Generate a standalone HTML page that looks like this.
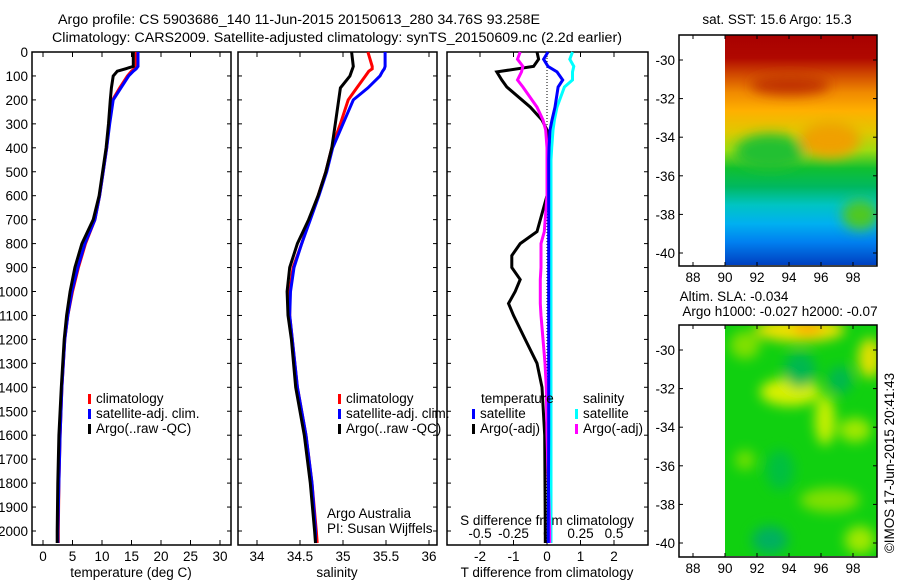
<!DOCTYPE html>
<html><head><meta charset="utf-8"><style>
html,body{margin:0;padding:0;background:#fff}
svg{display:block;font-family:"Liberation Sans",sans-serif;font-size:13.5px}
</style></head><body>
<svg id="c" width="900" height="580" viewBox="0 0 900 580">
<defs>
<linearGradient id="sstg" x1="0" y1="0" x2="0" y2="1">
<stop offset="0" stop-color="#a80000"/><stop offset="0.1" stop-color="#b00800"/>
<stop offset="0.17" stop-color="#d04800"/><stop offset="0.25" stop-color="#f08a00"/>
<stop offset="0.33" stop-color="#ffb000"/><stop offset="0.42" stop-color="#e0c800"/>
<stop offset="0.5" stop-color="#a0dc10"/><stop offset="0.58" stop-color="#10c030"/>
<stop offset="0.66" stop-color="#00b860"/><stop offset="0.74" stop-color="#00c4c4"/>
<stop offset="0.82" stop-color="#00b0f0"/><stop offset="0.9" stop-color="#0080f0"/>
<stop offset="1" stop-color="#0040c0"/></linearGradient>
<clipPath id="m1c"><rect x="725" y="35" width="152" height="230"/></clipPath>
<clipPath id="m2c"><rect x="725" y="325" width="152" height="231"/></clipPath>
<filter id="blur"><feGaussianBlur stdDeviation="6"/></filter>
</defs>
<text x="58" y="24" textLength="482" lengthAdjust="spacingAndGlyphs">Argo profile: CS 5903686_140 11-Jun-2015 20150613_280 34.76S 93.258E</text>
<text x="52" y="42" textLength="570" lengthAdjust="spacingAndGlyphs">Climatology: CARS2009. Satellite-adjusted climatology: synTS_20150609.nc (2.2d earlier)</text>
<g id="plots"></g>
<g id="maps"></g>
</svg>
<script>
// ---- data ----
const depths = [0,60,70,80,100,150,200,300,400,500,600,700,800,900,1000,1100,1200,1400,1600,1800,2000,2050];
const tempArgo = [15.3,15.3,14.0,12.6,11.9,11.6,11.4,11.1,10.7,10.1,9.5,8.5,6.6,5.4,4.6,4.0,3.6,3.1,2.7,2.5,2.4,2.4];
const tempClim = [15.8,15.8,15.5,15.0,14.3,13.0,11.8,11.2,10.8,10.2,9.6,8.8,7.2,6.0,5.0,4.2,3.7,3.2,2.9,2.7,2.6,2.6];
const tempSat  = [16.1,16.1,15.8,15.3,14.5,13.2,11.9,11.3,10.8,10.2,9.6,8.8,7.1,5.9,4.9,4.2,3.7,3.2,2.9,2.7,2.5,2.5];
const salArgo = [35.10,35.12,35.11,35.10,35.08,34.97,34.95,34.91,34.87,34.80,34.71,34.60,34.47,34.38,34.35,34.36,34.40,34.45,34.55,34.62,34.67,34.68];
const salClim = [35.29,35.34,35.34,35.30,35.26,35.16,35.06,34.97,34.87,34.80,34.71,34.61,34.52,34.42,34.38,34.38,34.41,34.47,34.57,34.64,34.69,34.70];
const salSat  = [35.49,35.49,35.48,35.46,35.43,35.29,35.12,35.00,34.88,34.81,34.72,34.62,34.52,34.43,34.39,34.38,34.41,34.47,34.57,34.64,34.68,34.68];
const diffDepths = [0,30,60,83,117,146,230,284,326,400,450,600,750,800,850,900,950,1000,1050,1100,1200,1300,1400,1600,2000,2050];
const tDiffArgo = [-0.3,-0.25,-0.4,-1.5,-1.35,-1.2,-0.5,-0.15,0,0.1,0.05,0,-0.3,-0.8,-1.05,-1.05,-0.8,-0.95,-1.15,-1.0,-0.65,-0.3,-0.15,-0.07,-0.05,-0.05];
const tDiffSat  = [0.03,-0.1,0.03,0.3,0.47,0.33,0.24,0.15,0.09,0.06,0.05,0.05,0.05,0.05,0.05,0.05,0.05,0.05,0.05,0.05,0.05,0.05,0.05,0.05,0.04,0.04];
const sDiffArgo = [-0.2,-0.22,-0.18,-0.19,-0.22,-0.18,-0.075,-0.03,-0.01,0,0,0,-0.02,-0.045,-0.045,-0.045,-0.05,-0.05,-0.05,-0.045,-0.03,-0.015,-0.005,0,0.02,0.02];
const sDiffSat  = [0.19,0.17,0.2,0.19,0.19,0.13,0.075,0.055,0.045,0.035,0.03,0.03,0.03,0.03,0.03,0.03,0.03,0.03,0.03,0.03,0.03,0.03,0.03,0.03,0.03,0.03];
const depthTicks = [0,100,200,300,400,500,600,700,800,900,1000,1100,1200,1300,1400,1500,1600,1700,1800,1900,2000];
const tempTicks = [0,5,10,15,20,25,30];
const salTicks = [34,34.5,35,35.5,36];
const tDiffTicks = [-2,-1,0,1,2];
const sDiffTicks = [-0.5,-0.25,0,0.25,0.5];
const mapLonTicks = [88,90,92,94,96,98];
const mapLatTicks = [-30,-32,-34,-36,-38,-40];

const NS="http://www.w3.org/2000/svg";
function el(tag,attrs,parent,txt){const e=document.createElementNS(NS,tag);for(const k in attrs)e.setAttribute(k,attrs[k]);if(txt!==undefined)e.textContent=txt;parent.appendChild(e);return e;}
const Y0=52, YB=545;
const yD = d => Y0 + d*0.2395;
const P1={x0:32,x1:231}, P2={x0:238,x1:437}, P3={x0:447,x1:648};
const xT = v => 43 + v*5.9;
const xS = v => 257 + (v-34)*86;
const xTd = v => 547 + v*33.5;
const xSd = v => 547 + v*134;
const g=document.getElementById('plots');

function frame(P,name){
  const r=el('rect',{x:P.x0,y:Y0,width:P.x1-P.x0,height:YB-Y0,fill:'none',stroke:'#000','stroke-width':1.5},g);
  
  
  depthTicks.forEach(d=>{
    el('line',{x1:P.x0,x2:P.x0+4,y1:yD(d),y2:yD(d),stroke:'#000'},g);
    el('line',{x1:P.x1-4,x2:P.x1,y1:yD(d),y2:yD(d),stroke:'#000'},g);
  });
}
function xticks(ticks,fx,fmt,name){
  ticks.forEach(v=>{
    const x=fx(v);
    el('line',{x1:x,x2:x,y1:Y0,y2:Y0+5,stroke:'#000'},g);
    el('line',{x1:x,x2:x,y1:YB-5,y2:YB,stroke:'#000'},g);
    const t=el('text',{x:x,y:YB+16,'text-anchor':'middle'},g,fmt(v));
    
    
  });
}
function line(xs,ds,fx,color,w,name){
  const pts=xs.map((v,i)=>fx(v).toFixed(1)+','+yD(ds[i]).toFixed(1)).join(' ');
  const p=el('polyline',{points:pts,fill:'none',stroke:color,'stroke-width':w,'stroke-linejoin':'miter'},g);
  
  
}
function legendItem(x,y,color,label,name){
  el('rect',{x:x,y:y-9,width:3,height:10,fill:color},g);
  const t=el('text',{x:x+8,y:y},g,label);
  
  
}
frame(P1,'temperature-panel');frame(P2,'salinity-panel');frame(P3,'difference-panel');
depthTicks.forEach(d=>{
  const t=el('text',{x:28,y:yD(d)+5,'text-anchor':'end'},g,String(d));
  
  
});
xticks(tempTicks,xT,v=>String(v),'temperature-tick-label');
xticks(salTicks,xS,v=>String(v),'salinity-tick-label');
xticks(tDiffTicks,xTd,v=>String(v),'t-diff-tick-label');
sDiffTicks.forEach(v=>{
  const t=el('text',{x:xSd(v),y:538,'text-anchor':'middle'},g,String(v));
  
  
});
[['temperature (deg C)',131,'temperature-axis-title'],['salinity',337,'salinity-axis-title'],['T difference from climatology',547,'t-diff-axis-title']].forEach(a=>{
  const t=el('text',{x:a[1],y:577,'text-anchor':'middle'},g,a[0]);
  
  
});
{const t=el('text',{x:547,y:525,'text-anchor':'middle'},g,'S difference from climatology');

}
// zero line
el('line',{x1:547,x2:547,y1:Y0,y2:YB,stroke:'#000','stroke-dasharray':'1,2'},g);
// series
line(tempClim,depths,xT,'#f00',3,'temp-climatology-line');
line(tempSat,depths,xT,'#00f',3,'temp-satellite-line');
line(tempArgo,depths,xT,'#000',3,'temp-argo-line');
line(salClim,depths,xS,'#f00',3,'sal-climatology-line');
line(salSat,depths,xS,'#00f',3,'sal-satellite-line');
line(salArgo,depths,xS,'#000',3,'sal-argo-line');
line(tDiffArgo,diffDepths,xTd,'#000',3,'t-diff-argo-line');
line(sDiffSat,diffDepths,xSd,'#0ff',3,'s-diff-satellite-line');
line(sDiffArgo,diffDepths,xSd,'#f0f',3,'s-diff-argo-line');
line(tDiffSat,diffDepths,xTd,'#00f',3,'t-diff-satellite-line');
// legends
legendItem(88,403,'#f00','climatology','legend-climatology');
legendItem(88,418,'#00f','satellite-adj. clim.','legend-satellite');
legendItem(88,433,'#000','Argo(..raw -QC)','legend-argo');
legendItem(338,403,'#f00','climatology','legend-climatology-sal');
legendItem(338,418,'#00f','satellite-adj. clim.','legend-satellite-sal');
legendItem(338,433,'#000','Argo(..raw -QC)','legend-argo-sal');
{const t=el('text',{x:481,y:403},g,'temperature');}
legendItem(472,418,'#00f','satellite','legend-t-satellite');
legendItem(472,433,'#000','Argo(-adj)','legend-t-argo');
{const t=el('text',{x:583,y:403},g,'salinity');}
legendItem(575,418,'#0ff','satellite','legend-s-satellite');
legendItem(575,433,'#f0f','Argo(-adj)','legend-s-argo');
{const t=el('text',{x:327,y:518},g,'Argo Australia');
const t2=el('text',{x:327,y:533},g,'PI: Susan Wijffels');}

// ---- maps ----
const m=document.getElementById('maps');
const xL = lon => 725 + (lon-90)*16;
function mapFrame(top,bottom,name){
  const r=el('rect',{x:679,y:top,width:198,height:bottom-top,fill:'none',stroke:'#000','stroke-width':1.5},m);
  
  
  mapLonTicks.forEach(v=>{
    el('line',{x1:xL(v),x2:xL(v),y1:top,y2:top+4,stroke:'#000'},m);
    el('line',{x1:xL(v),x2:xL(v),y1:bottom-4,y2:bottom,stroke:'#000'},m);
    const t=el('text',{x:xL(v),y:bottom+16,'text-anchor':'middle'},m,String(v));
    
    
  });
  mapLatTicks.forEach(v=>{
    const y=top+25+(-30-v)*19.3;
    el('line',{x1:679,x2:683,y1:y,y2:y,stroke:'#000'},m);
    el('line',{x1:873,x2:877,y1:y,y2:y,stroke:'#000'},m);
    const t=el('text',{x:675,y:y+5,'text-anchor':'end'},m,String(v));
    
    
  });
}
// SST map
{const r=el('rect',{x:725,y:35,width:152,height:230,fill:'url(#sstg)'},m);


const gg=el('g',{'clip-path':'url(#m1c)'},m);
const b=el('g',{filter:'url(#blur)'},gg);
el('ellipse',{cx:770,cy:152,rx:35,ry:18,fill:'#20c030'},b);
el('ellipse',{cx:830,cy:140,rx:30,ry:18,fill:'#f0a000'},b);
el('ellipse',{cx:860,cy:215,rx:18,ry:15,fill:'#50c820'},b);
el('ellipse',{cx:790,cy:85,rx:40,ry:10,fill:'#c03000'},b);}
mapFrame(35,266,'sst-map-frame');
// SLA map
{const r=el('rect',{x:725,y:325,width:152,height:231,fill:'#10d010'},m);


const gg=el('g',{'clip-path':'url(#m2c)'},m);
const b=el('g',{filter:'url(#blur)'},gg);
[[800,330,45,12,'#f0e000'],[808,328,15,8,'#ffb000'],[870,358,12,20,'#e0e000'],[790,392,30,14,'#d8f000'],[825,420,10,25,'#c8f000'],[745,345,15,14,'#80e000'],[855,430,16,12,'#a0e800'],[830,500,30,12,'#80e000'],[860,540,15,14,'#a0e800'],[800,370,16,18,'#00b850'],[840,380,12,14,'#00b850'],[770,540,18,14,'#00b060'],[780,470,14,20,'#00c040'],[745,460,10,10,'#70e000']].forEach(a=>el('ellipse',{cx:a[0],cy:a[1],rx:a[2],ry:a[3],fill:a[4]},b));}
mapFrame(325,557,'sla-map-frame');
[['sat. SST: 15.6  Argo: 15.3',777,24,'sst-map-title'],['Altim. SLA: -0.034',734,301,'sla-title'],['Argo h1000: -0.027 h2000: -0.07',780,316,'argo-height-title']].forEach(a=>{
  const t=el('text',{x:a[1],y:a[2],'text-anchor':'middle'},m,a[0]);
  
  
});
{const t=el('text',{x:0,y:0,'text-anchor':'middle',transform:'translate(894,463) rotate(-90)'},m,'©IMOS 17-Jun-2015 20:41:43');

}
</script>
</body></html>
